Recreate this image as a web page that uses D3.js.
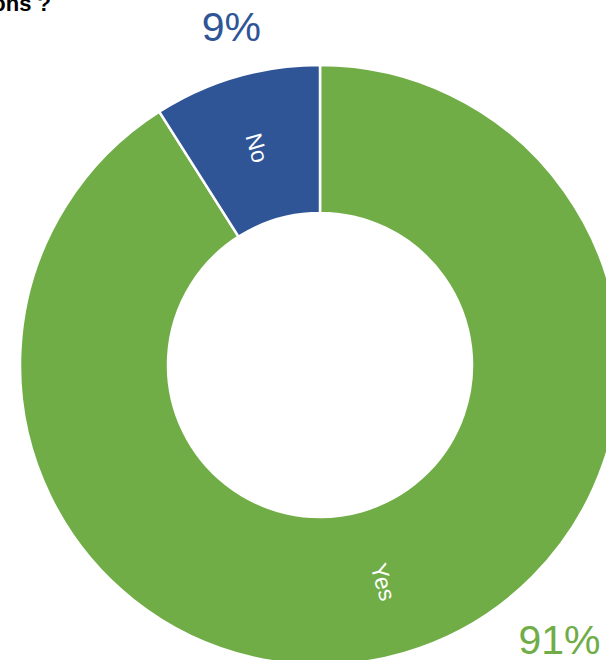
<!DOCTYPE html>
<html>
<head>
<meta charset="utf-8">
<script src="https://cdn.jsdelivr.net/npm/d3@7"></script>
<style>
  body { margin: 0; background: #fff; }
  svg { display: block; font-family: "Liberation Sans", Arial, sans-serif; }
</style>
</head>
<body>
<svg id="chart" width="606" height="660"></svg>
<script>
// chart data
var categories = ['Yes', 'No'];
var values = [91, 9];
var percentLabels = ['91%', '9%'];
var colors = ['#70AD47', '#2F5597'];

var width = 606, height = 660;
var cx = 320, cy = 365;
var outerR = 300, innerR = 152;

var svg = d3.select('#chart');

// title, clipped at the top-left like the original
svg.append('text')
    .attr('x', 51)
    .attr('y', 11)
    .attr('text-anchor', 'end')
    .attr('font-size', 22)
    .attr('font-weight', 'bold')
    .attr('fill', '#000')
    .text('ons ?');

var data = categories.map((c, i) => ({ name: c, value: values[i], pct: percentLabels[i], color: colors[i] }));

var pie = d3.pie()
    .sort(null)
    .value(d => d.value);

var arc = d3.arc()
    .innerRadius(innerR)
    .outerRadius(outerR);

var g = svg.append('g')
    .attr('transform', `translate(${cx},${cy})`);

var arcs = pie(data);

g.selectAll('.slice')
    .data(arcs)
    .join('path')
    .classed('slice', true)
    .attr('d', arc)
    .attr('fill', d => d.data.color)
    .attr('stroke', '#fff')
    .attr('stroke-width', 2.5);

// category labels inside the ring, rotated along the radius
g.selectAll('.cat-label')
    .data(arcs)
    .join('text')
    .classed('cat-label', true)
    .attr('transform', d => {
        let c = arc.centroid(d);
        let mid = (d.startAngle + d.endAngle) / 2 * 180 / Math.PI;
        let rot = mid - 90;
        if (rot < -90) rot += 180;
        if (rot > 90) rot -= 180;
        return `translate(${c[0]},${c[1]}) rotate(${rot})`;
    })
    .attr('text-anchor', 'middle')
    .attr('dominant-baseline', 'central')
    .attr('font-size', 23)
    .attr('fill', '#fff')
    .text(d => d.data.name);

// percentage labels outside the ring
var pctAngle = { 'Yes': 139, 'No': -14.7 };
var pctRadius = { 'Yes': 365, 'No': 349 };
g.selectAll('.pct-label')
    .data(arcs)
    .join('text')
    .classed('pct-label', true)
    .attr('x', d => pctRadius[d.data.name] * Math.sin(pctAngle[d.data.name] * Math.PI / 180))
    .attr('y', d => -pctRadius[d.data.name] * Math.cos(pctAngle[d.data.name] * Math.PI / 180))
    .attr('text-anchor', 'middle')
    .attr('dominant-baseline', 'central')
    .attr('font-size', 41)
    .attr('fill', d => d.data.color)
    .text(d => d.data.pct);
</script>
</body>
</html>
